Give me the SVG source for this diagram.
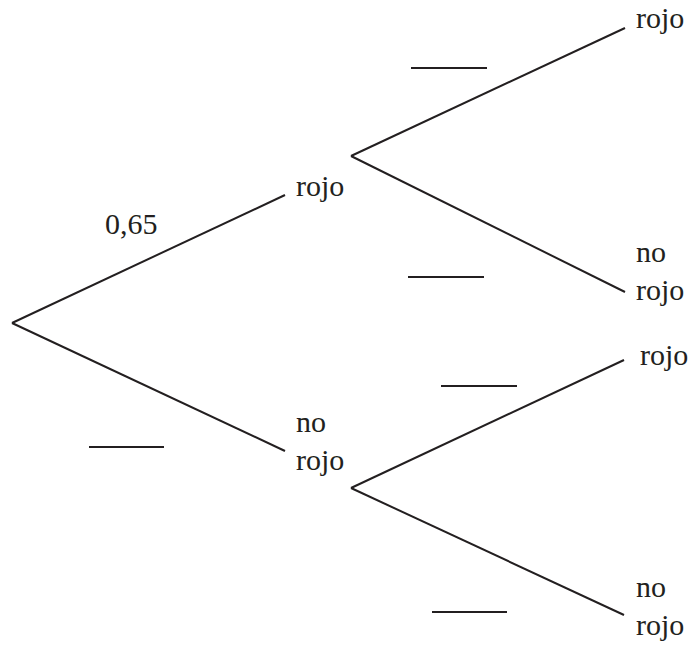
<svg xmlns="http://www.w3.org/2000/svg" width="693" height="646" viewBox="0 0 693 646">
<style>
.e{stroke:#231f20;stroke-width:2;fill:none;stroke-linecap:butt}
.b{stroke:#231f20;stroke-width:2}
.t{font-family:'Liberation Serif',Tinos,Times,'Times New Roman',serif;font-size:30px;fill:#231f20}
</style>
<rect width="693" height="646" fill="#fff"/>
<g id="connectors">
<line class="e" x1="12" y1="323" x2="285" y2="195"/>
<line class="e" x1="12" y1="323" x2="285" y2="451"/>
<line class="e" x1="351" y1="156" x2="625" y2="28"/>
<line class="e" x1="351" y1="156" x2="625" y2="292"/>
<line class="e" x1="351" y1="488" x2="624" y2="360"/>
<line class="e" x1="351" y1="488" x2="624" y2="615"/>
</g>
<g id="labels">
<text class="t" x="105" y="234">0,65</text>
<line class="b" x1="89" y1="447" x2="164" y2="447"/>
<line class="b" x1="411" y1="68" x2="487" y2="68"/>
<line class="b" x1="408" y1="277" x2="484" y2="277"/>
<line class="b" x1="441" y1="386" x2="517" y2="386"/>
<line class="b" x1="432" y1="612" x2="507" y2="612"/>
</g>
<g id="node-root"/>
<g id="node-rojo"><text class="t" x="296" y="196">rojo</text></g>
<g id="node-norojo"><text class="t" x="296" y="432">no</text><text class="t" x="296" y="470">rojo</text></g>
<g id="node-rojo-rojo"><text class="t" x="636" y="28">rojo</text></g>
<g id="node-rojo-norojo"><text class="t" x="636" y="262">no</text><text class="t" x="636" y="300">rojo</text></g>
<g id="node-norojo-rojo"><text class="t" x="640" y="365">rojo</text></g>
<g id="node-norojo-norojo"><text class="t" x="636" y="597">no</text><text class="t" x="636" y="635">rojo</text></g>
</svg>
